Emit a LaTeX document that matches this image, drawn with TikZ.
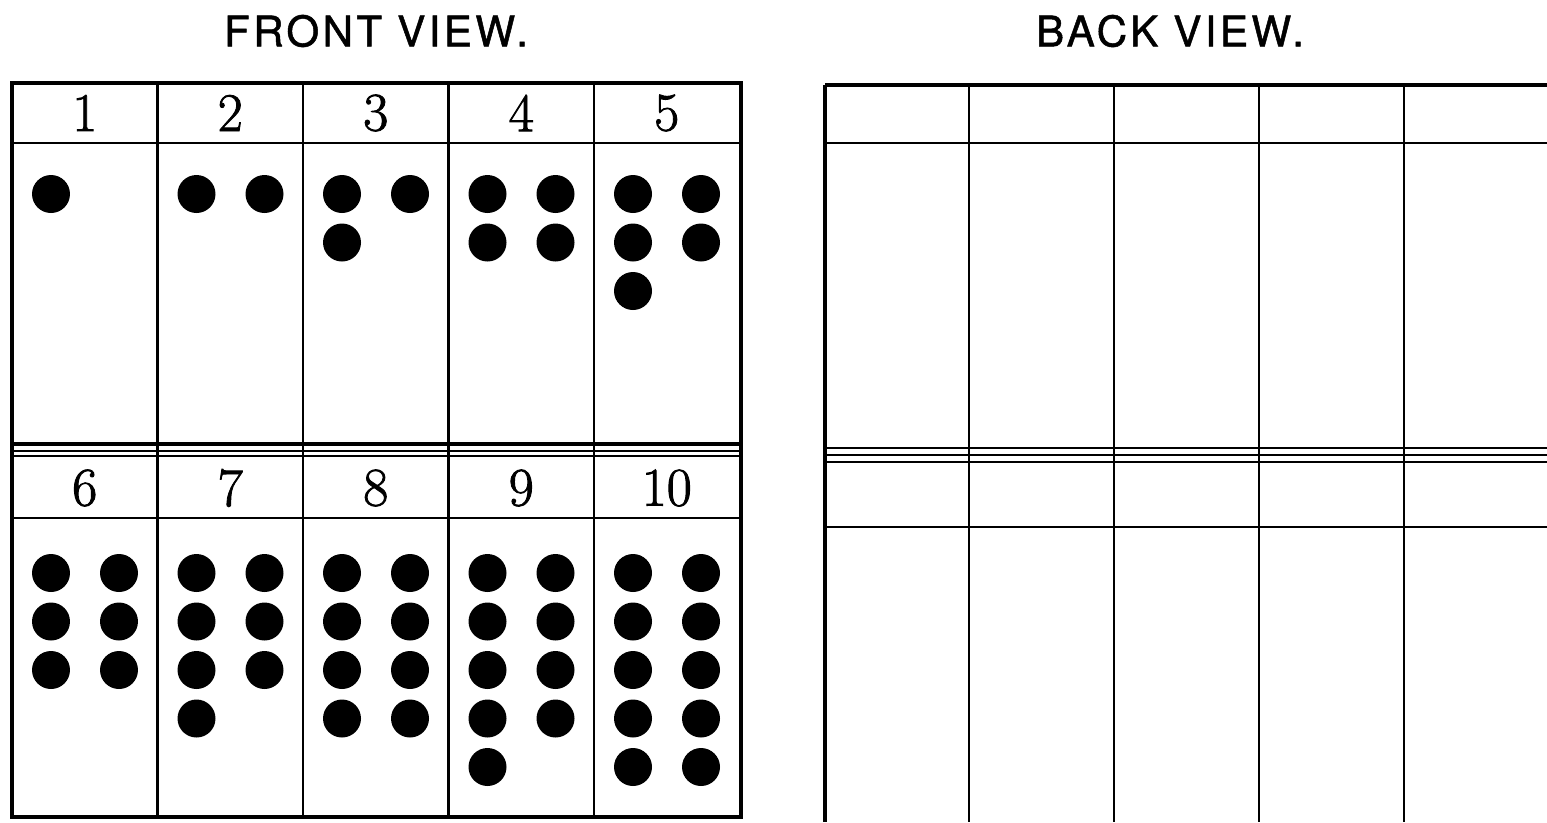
\documentclass[tikz,border=0pt]{standalone}
\usepackage{fontspec}
\newfontfamily\viewfont[LetterSpace=8,FakeBold=1.2]{TeX Gyre Heros}
\newfontfamily\numfont[FakeBold=1.6]{Latin Modern Roman}
\tikzset{
  rule/.style={line width=1.4pt},
  frame/.style={line width=2pt},
  thinrule/.style={line width=0.8pt},
  title/.style={font=\viewfont\fontsize{24}{24}\selectfont},
  numeral/.style={font=\numfont\fontsize{31}{31}\selectfont},
}
\begin{document}
\begin{tikzpicture}[x=0.02cm,y=-0.02cm]
    \useasboundingbox (0,0) rectangle (1547,822);
    \pgfmathsetmacro{\colw}{145.5}
    \node [title] (front) at (376,31) {FRONT VIEW.};
    \node [title] (back) at (1170,31) {BACK VIEW.};
    % front view
    \draw [frame] (12,83) rectangle (741,817);
    \draw [rule] (12,143) -- (741,143);
    \draw [line width=1.8pt] (12,444) -- (741,444);
    \draw [thinrule] (12,451) -- (741,451);
    \draw [rule] (12,456) -- (741,456);
    \draw [rule] (12,518) -- (741,518);
    \foreach \i in {1,...,4}
        \draw [rule] ({12+\i*\colw},83) -- ({12+\i*\colw},817);
    \foreach \n in {1,...,5}
        \node [numeral] (num\n) at ({12+(\n-0.5)*\colw},113) {\n};
    \foreach \n in {6,...,10}
        \node [numeral] (num\n) at ({12+(\n-5.5)*\colw},488) {\n};
    \foreach \k in {1,...,10} {
        \pgfmathsetmacro{\cx}{12+mod(\k-1,5)*\colw}
        \pgfmathsetmacro{\cy}{\k>5 ? 573 : 194}
        \foreach \i in {1,...,\k}
            \fill ({\cx+39+68*mod(\i-1,2)},{\cy+48.5*floor((\i-1)/2)}) circle [radius=0.38cm];
    }
    % back view
    \draw [frame] (825,85) -- (1547,85);
    \foreach \y in {143,448,455,462,527}
        \draw [rule] (825,\y) -- (1547,\y);
    \draw [frame] (825,85) -- (825,822);
    \foreach \x in {969,1114,1259,1404}
        \draw [rule] (\x,85) -- (\x,822);
\end{tikzpicture}
\end{document}
